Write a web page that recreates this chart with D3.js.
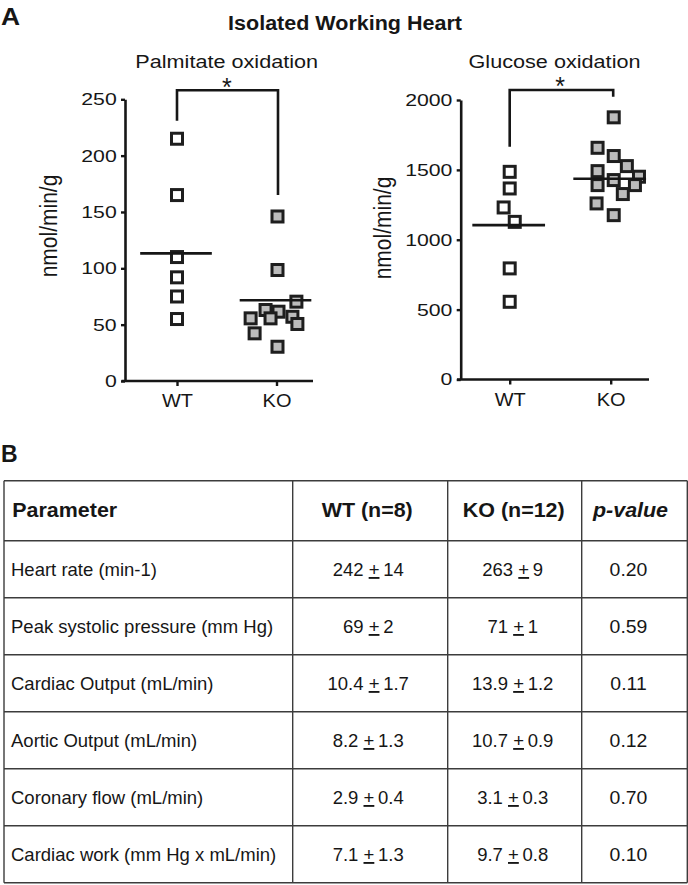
<!DOCTYPE html>
<html><head><meta charset="utf-8">
<script src="https://cdn.jsdelivr.net/npm/d3@7"></script>
<style>
body{margin:0;background:#fff}
svg{display:block}
text{font-family:Arial,"Liberation Sans",Helvetica,sans-serif;fill:#161616}
</style>
</head><body>
<svg id="c" width="688" height="885"></svg>
<script>
// ---------- DATA ----------
const groups = ["WT", "KO"];

const palmWT = [215, 165, 110, 92, 75, 55];
const palmWTJitter = [0, 0, 0, 0, 0, 0];
const palmKO = [146, 98.5, 70.4, 63, 61.5, 57, 55.6, 55.6, 50.6, 42.3, 30.4];
const palmKOJitter = [0.01, 0.01, 0.2, -0.11, 0.02, 0.16, -0.06, -0.26, 0.21, -0.22, 0.01];
const palmMeans = [113.3, 71.6];
const palmTicks = [0, 50, 100, 150, 200, 250];
const palmBracket = [231, 258, 165];   // WT leg end, top, KO leg end (data units)

const glucWT = [1486, 1367, 1231, 1128, 795, 556];
const glucWTJitter = [0, 0, -0.06, 0.05, 0, 0];
const glucKO = [1876, 1658, 1599, 1527, 1491, 1451, 1427, 1391, 1391, 1327, 1260, 1176];
const glucKOJitter = [0.03, -0.13, 0.03, 0.16, -0.13, 0.28, 0.03, 0.24, -0.13, 0.12, -0.14, 0.03];
const glucMeans = [1105, 1436];
const glucTicks = [0, 500, 1000, 1500, 2000];
const glucBracket = [1665, 2072, 2023];

const tableHeader = ["Parameter", "WT (n=8)", "KO (n=12)", "p-value"];
const parameters = ["Heart rate (min-1)", "Peak systolic pressure (mm Hg)", "Cardiac Output (mL/min)",
  "Aortic Output (mL/min)", "Coronary flow (mL/min)", "Cardiac work (mm Hg x mL/min)"];
const wtMean = ["242", "69", "10.4", "8.2", "2.9", "7.1"];
const wtSem  = ["14", "2", "1.7", "1.3", "0.4", "1.3"];
const koMean = ["263", "71", "13.9", "10.7", "3.1", "9.7"];
const koSem  = ["9", "1", "1.2", "0.9", "0.3", "0.8"];
const pValues = ["0.20", "0.59", "0.11", "0.12", "0.70", "0.10"];

// ---------- DRAWING ----------
const svg = d3.select("#c");
const INK = "#161616";

function txt(g, x, y, s, o) {
  o = o || {};
  const sx = o.sx || 1;
  return g.append("text")
    .attr("transform", `translate(${x},${y}) scale(${sx},1)` + (o.rot ? ` rotate(${o.rot})` : ""))
    .attr("text-anchor", o.anchor || "start")
    .attr("font-size", o.fs || 16)
    .attr("font-weight", o.weight || "normal")
    .attr("font-style", o.style || "normal")
    .text(s);
}

txt(svg, 1, 25, "A", {fs: 24, weight: "bold", sx: 1.1});
txt(svg, 345, 30, "Isolated Working Heart", {fs: 20.5, weight: "bold", anchor: "middle", sx: 1.05});

function scatter(cfg) {
  const g = svg.append("g");
  const y = d3.scaleLinear().domain([0, cfg.max]).range([cfg.y0, cfg.yTop]);
  const x = d3.scaleLinear().domain([0, 1]).range([cfg.xWT, cfg.xKO]);

  // title
  txt(g, cfg.titleX, 68.3, cfg.title, {fs: 18.5, anchor: "middle", sx: 1.17});
  // y title
  txt(g, cfg.ytX, cfg.ytY, "nmol/min/g", {fs: 21, anchor: "middle", sx: 1.12, rot: -90});

  // y axis
  const tsx = 1.25;
  const ya = g.append("g").attr("transform", `translate(${cfg.axisX},0)`)
    .call(d3.axisLeft(y).tickValues(cfg.ticks).tickSize(4).tickSizeOuter(0).tickPadding(4).tickFormat(d3.format("d")));
  ya.select(".domain").attr("stroke", INK).attr("stroke-width", 2.6);
  ya.selectAll(".tick line").attr("stroke", INK).attr("stroke-width", 2.4);
  ya.selectAll(".tick text")
    .attr("font-size", 17).attr("font-family", null).attr("fill", INK)
    .attr("x", -8.3 / tsx).attr("transform", `scale(${tsx},1)`);

  // x axis
  const xa = g.append("g").attr("transform", `translate(0,${cfg.y0})`)
    .call(d3.axisBottom(x).tickValues([0, 1]).tickFormat((d) => groups[d]).tickSize(5).tickSizeOuter(0).tickPadding(8));
  xa.select(".domain").remove();
  xa.append("line").attr("x1", cfg.axL).attr("x2", cfg.axR).attr("stroke", INK).attr("stroke-width", 2.6);
  xa.selectAll(".tick line").attr("stroke", INK).attr("stroke-width", 2.4);
  xa.selectAll(".tick text").attr("font-size", 18.5).attr("font-family", null).attr("fill", INK)
    .attr("transform", "scale(1.08,1)").attr("x", 0);

  // points
  const pts = [];
  cfg.wt.forEach((v, i) => pts.push({g: 0, v, j: cfg.wtJ[i]}));
  cfg.ko.forEach((v, i) => pts.push({g: 1, v, j: cfg.koJ[i]}));
  const S = 11;
  g.append("g").selectAll("rect").data(pts).join("rect")
    .attr("x", (d) => x(d.g + d.j) - S / 2)
    .attr("y", (d) => y(d.v) - S / 2)
    .attr("width", S).attr("height", S)
    .attr("fill", (d) => d.g === 0 ? "#ffffff" : "#bcbcbc")
    .attr("stroke", "#1e1e1e").attr("stroke-width", 3);

  // means
  g.append("g").selectAll("line").data(cfg.means).join("line")
    .attr("x1", (d, i) => x(i - 0.37)).attr("x2", (d, i) => x(i + 0.35))
    .attr("y1", (d) => y(d)).attr("y2", (d) => y(d))
    .attr("stroke", INK).attr("stroke-width", 2.6);

  // significance bracket
  const b = cfg.bracket;
  g.append("path")
    .attr("d", `M${x(0)},${y(b[0])}V${y(b[1])}H${x(1) + cfg.bkoDx}V${y(b[2])}`)
    .attr("fill", "none").attr("stroke", INK).attr("stroke-width", 2.6);
  txt(g, (x(0) + x(1)) / 2, y(b[1]) + 5.5, "*", {fs: 25, anchor: "middle"});
}

scatter({
  title: "Palmitate oxidation", titleX: 226.7, ytX: 57, ytY: 226,
  max: 250, y0: 381, yTop: 99.3, xWT: 177, xKO: 276.5, axisX: 125, axL: 121.5, axR: 313,
  ticks: palmTicks, wt: palmWT, wtJ: palmWTJitter, ko: palmKO, koJ: palmKOJitter,
  means: palmMeans, bracket: palmBracket, bkoDx: 1.5
});
scatter({
  title: "Glucose oxidation", titleX: 554.5, ytX: 391, ytY: 228,
  max: 2000, y0: 379.5, yTop: 100, xWT: 509.7, xKO: 610.7, axisX: 460.7, axL: 457, axR: 649,
  ticks: glucTicks, wt: glucWT, wtJ: glucWTJitter, ko: glucKO, koJ: glucKOJitter,
  means: glucMeans, bracket: glucBracket, bkoDx: 2.5
});

// ---------- TABLE ----------
txt(svg, 1, 461.5, "B", {fs: 23, weight: "bold"});

const colEdges = [4, 292.7, 447.7, 581.7, 687.3];
const tTop = 480.7, headH = 60, rowH = 57;
const nRows = parameters.length;
const rowEdges = [tTop, tTop + headH].concat(d3.range(1, nRows + 1).map((i) => tTop + headH + i * rowH));
const tb = svg.append("g");
tb.selectAll("line.h").data(rowEdges).join("line").attr("class", "h")
  .attr("x1", colEdges[0]).attr("x2", colEdges[colEdges.length - 1])
  .attr("y1", (d) => d).attr("y2", (d) => d)
  .attr("stroke", "#3c3c3c").attr("stroke-width", 1.4);
tb.selectAll("line.v").data(colEdges).join("line").attr("class", "v")
  .attr("x1", (d) => d).attr("x2", (d) => d)
  .attr("y1", rowEdges[0]).attr("y2", rowEdges[rowEdges.length - 1])
  .attr("stroke", "#3c3c3c").attr("stroke-width", 1.4);

const colCenter = (i) => (colEdges[i] + colEdges[i + 1]) / 2;
const headY = tTop + headH / 2 + 6.5;
txt(tb, 12.3, headY, tableHeader[0], {fs: 19.5, weight: "bold", sx: 1.1});
txt(tb, colCenter(1) - 3, headY, tableHeader[1], {fs: 19.5, weight: "bold", anchor: "middle", sx: 1.1});
txt(tb, colCenter(2) - 1, headY, tableHeader[2], {fs: 19.5, weight: "bold", anchor: "middle", sx: 1.1});
txt(tb, colCenter(3) - 4, headY, tableHeader[3], {fs: 19.5, weight: "bold", style: "italic", anchor: "middle", sx: 1.1});

function pm(g, x, y, m, s) {
  const t = g.append("text").attr("x", x).attr("y", y).attr("text-anchor", "middle").attr("font-size", 18.5);
  t.append("tspan").text(m + " ");
  t.append("tspan").attr("text-decoration", "underline").style("text-decoration", "underline").text("+");
  t.append("tspan").text("\u2009" + s);
}

parameters.forEach((p, i) => {
  const cy = tTop + headH + i * rowH + rowH / 2 + 6.8;
  txt(tb, 11, cy, p, {fs: 18.5});
  pm(tb, colCenter(1) - 2, cy, wtMean[i], wtSem[i]);
  pm(tb, colCenter(2) - 2, cy, koMean[i], koSem[i]);
  txt(tb, colCenter(3) - 6, cy, pValues[i], {fs: 18.5, anchor: "middle", sx: 1.05});
});
</script>
</body></html>
